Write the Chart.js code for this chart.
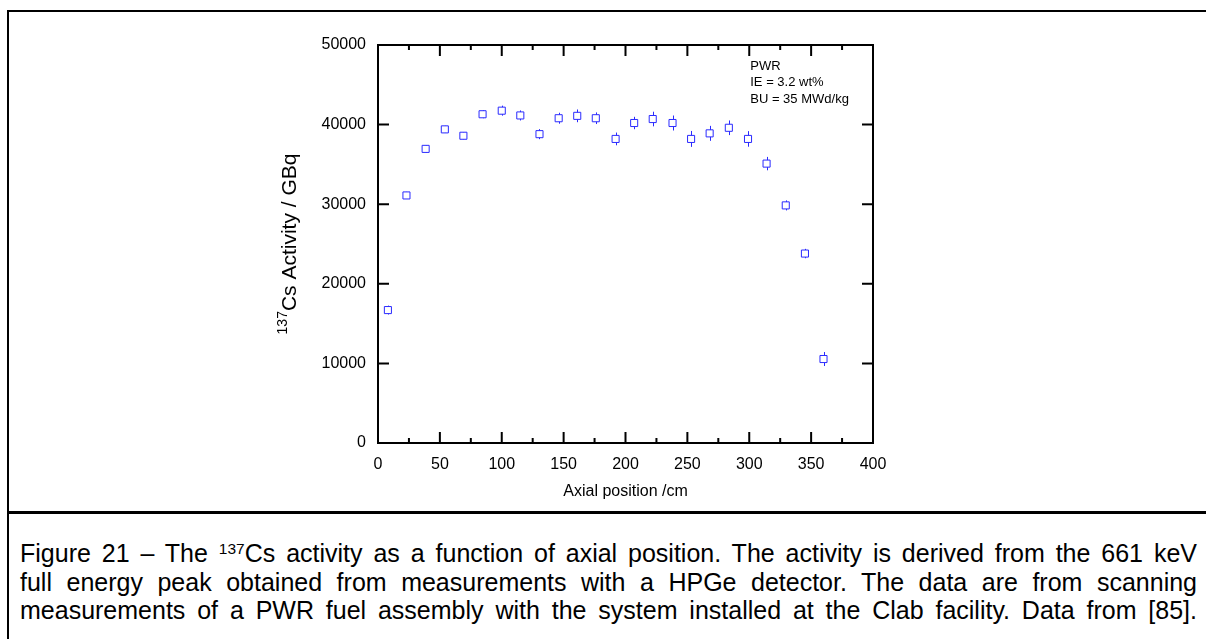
<!DOCTYPE html>
<html>
<head>
<meta charset="utf-8">
<script src="https://cdn.jsdelivr.net/npm/chart.js@4.4.0/dist/chart.umd.min.js"></script>
<style>
html, body { margin: 0; padding: 0; background: #fff; overflow: hidden; width: 1206px; height: 639px; }
#frame { position: absolute; left: 7px; top: 10px; width: 1230px; height: 700px; border-left: 2px solid #000; border-top: 2px solid #000; }
#sep { position: absolute; left: 7px; top: 511px; width: 1230px; border-top: 3px solid #000; }
#chart { position: absolute; left: 0; top: 0; }
#caption { position: absolute; left: 20px; top: 539px; width: 1177px; font-family: 'Liberation Sans', Arial, sans-serif; font-size: 25px; line-height: 28.5px; color: #000; }
#caption div { text-align: justify; text-align-last: justify; }
#caption sup { font-size: 0.62em; vertical-align: 0.5em; line-height: 0; }
</style>
</head>
<body>
<div id="frame"></div>
<div id="sep"></div>
<canvas id="chart" width="1206" height="505"></canvas>
<div id="caption">
  <div>Figure 21 – The <sup>137</sup>Cs activity as a function of axial position. The activity is derived from the 661 keV</div>
  <div>full energy peak obtained from measurements with a HPGe detector. The data are from scanning</div>
  <div>measurements of a PWR fuel assembly with the system installed at the Clab facility. Data from [85].</div>
</div>
<script>
// measured points (axial position in cm, activity in GBq, +/- uncertainty)
var positions = [8, 23, 38.5, 54, 69, 84.5, 100, 115, 130.5, 146, 161, 176, 192, 207, 222, 238, 253, 268, 283.5, 299, 314, 329.5, 345, 360];
var activity = [16700, 31100, 36950, 39400, 38600, 41300, 41750, 41150, 38800, 40800, 41100, 40800, 38200, 40200, 40700, 40200, 38200, 38900, 39600, 38200, 35100, 29850, 23800, 10550];
var errors = [560, 450, 450, 450, 450, 500, 630, 630, 630, 690, 800, 730, 800, 780, 920, 940, 1000, 940, 920, 980, 840, 630, 590, 880];

var xTicks = [0, 50, 100, 150, 200, 250, 300, 350, 400];
var xMinorTicks = [25, 75, 125, 175, 225, 275, 325, 375];
var yTicks = [0, 10000, 20000, 30000, 40000, 50000];

var xTitle = 'Axial position /cm';
var yTitleSup = '137';
var yTitleMain = 'Cs Activity / GBq';
var notes = ['PWR', 'IE = 3.2 wt%', 'BU = 35 MWd/kg'];

var fontFamily = "'Liberation Sans', Arial, sans-serif";
var markColor = '#2a2aff';

var points = [];
positions.forEach(function (p, i) {
  points.push({ x: p, y: activity[i] });
});

var framePlugin = {
  id: 'frame',
  beforeDatasetsDraw: function (chart) {
    // error bars go under the markers
    var ctx = chart.ctx;
    var xs = chart.scales.x;
    var ys = chart.scales.y;
    ctx.save();
    ctx.strokeStyle = markColor;
    ctx.lineWidth = 1;
    positions.forEach(function (p, i) {
      var px = Math.round(xs.getPixelForValue(p)) + 0.5;
      ctx.beginPath();
      ctx.moveTo(px, ys.getPixelForValue(activity[i] - errors[i]));
      ctx.lineTo(px, ys.getPixelForValue(activity[i] + errors[i]));
      ctx.stroke();
    });
    ctx.restore();
  },
  afterDraw: function (chart) {
    var ctx = chart.ctx;
    var a = chart.chartArea;
    var xs = chart.scales.x;
    var ys = chart.scales.y;
    ctx.save();
    ctx.strokeStyle = '#000';
    ctx.lineWidth = 2;
    ctx.strokeRect(a.left, a.top, a.right - a.left, a.bottom - a.top);

    // inward ticks on all four sides
    ctx.beginPath();
    xTicks.forEach(function (v) {
      var px = xs.getPixelForValue(v);
      ctx.moveTo(px, a.bottom); ctx.lineTo(px, a.bottom - 11);
      ctx.moveTo(px, a.top); ctx.lineTo(px, a.top + 11);
    });
    xMinorTicks.forEach(function (v) {
      var px = xs.getPixelForValue(v);
      ctx.moveTo(px, a.bottom); ctx.lineTo(px, a.bottom - 5);
      ctx.moveTo(px, a.top); ctx.lineTo(px, a.top + 5);
    });
    yTicks.forEach(function (v) {
      var py = ys.getPixelForValue(v);
      ctx.moveTo(a.left, py); ctx.lineTo(a.left + 11, py);
      ctx.moveTo(a.right, py); ctx.lineTo(a.right - 11, py);
    });
    ctx.stroke();

    // y axis title with superscript mass number
    ctx.fillStyle = '#000';
    ctx.translate(290, (a.top + a.bottom) / 2);
    ctx.rotate(-Math.PI / 2);
    ctx.textBaseline = 'middle';
    ctx.textAlign = 'left';
    ctx.font = '14px ' + fontFamily;
    var supW = ctx.measureText(yTitleSup).width;
    ctx.font = '21px ' + fontFamily;
    var mainW = ctx.measureText(yTitleMain).width;
    var x0 = -(supW + mainW) / 2;
    ctx.font = '14px ' + fontFamily;
    ctx.fillText(yTitleSup, x0, -7);
    ctx.font = '21px ' + fontFamily;
    ctx.fillText(yTitleMain, x0 + supW, 0);
    ctx.restore();

    // run info in the top right corner
    ctx.save();
    ctx.fillStyle = '#000';
    ctx.font = '13px ' + fontFamily;
    ctx.textBaseline = 'middle';
    var nx = xs.getPixelForValue(300) + 1;
    notes.forEach(function (t, i) {
      ctx.fillText(t, nx, a.top + 21 + i * 16.5);
    });
    ctx.restore();
  }
};

var ctx = document.getElementById('chart').getContext('2d');
var myChart = new Chart(ctx, {
  type: 'scatter',
  data: {
    datasets: [{
      data: points,
      showLine: false,
      pointStyle: 'rect',
      pointRadius: 5,
      borderWidth: 1,
      borderColor: markColor,
      backgroundColor: '#ffffff'
    }]
  },
  options: {
    responsive: false,
    animation: false,
    events: [],
    layout: {
      padding: { left: 308, right: 333, top: 45, bottom: 4 }
    },
    plugins: {
      legend: { display: false },
      tooltip: { enabled: false }
    },
    scales: {
      x: {
        type: 'linear',
        min: 0,
        max: 400,
        afterBuildTicks: function (s) {
          s.ticks = xTicks.map(function (v) { return { value: v }; });
        },
        afterFit: function (s) { s.height = 58; },
        grid: { display: false, drawTicks: false },
        border: { display: false },
        ticks: {
          color: '#000',
          autoSkip: false,
          maxRotation: 0,
          padding: 12,
          font: { family: fontFamily, size: 16 }
        },
        title: {
          display: true,
          text: xTitle,
          color: '#000',
          padding: 0,
          font: { family: fontFamily, size: 16 }
        }
      },
      y: {
        type: 'linear',
        min: 0,
        max: 50000,
        afterBuildTicks: function (s) {
          s.ticks = yTicks.map(function (v) { return { value: v }; });
        },
        afterFit: function (s) { s.width = 70; },
        grid: { display: false, drawTicks: false },
        border: { display: false },
        ticks: {
          color: '#000',
          autoSkip: false,
          padding: 12,
          font: { family: fontFamily, size: 16 },
          callback: function (v) { return String(v); }
        }
      }
    }
  },
  plugins: [framePlugin]
});
</script>
</body>
</html>
